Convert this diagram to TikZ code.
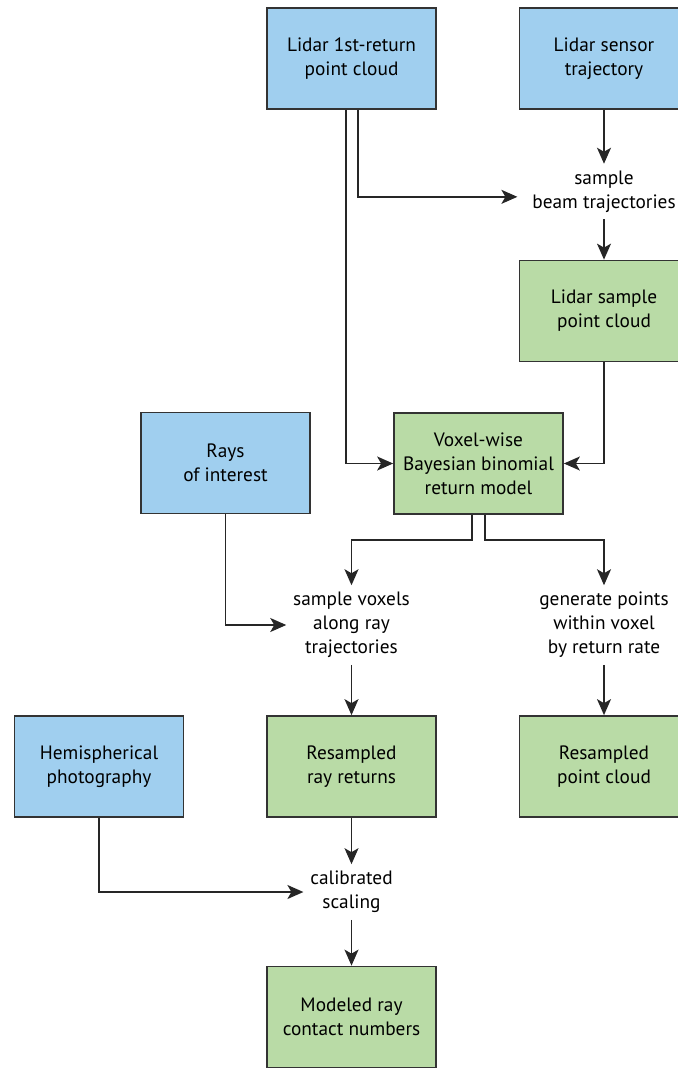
\documentclass[tikz,border=0pt]{standalone}
\usepackage{fontspec}
\setmainfont{PT Sans}
\usetikzlibrary{arrows.meta}

\definecolor{inblue}{RGB}{160,207,239}
\definecolor{outgreen}{RGB}{185,219,166}

\begin{document}
\begin{tikzpicture}[x=0.75pt,y=-0.75pt]

% ---------- styles ----------
\tikzset{
  box/.style    ={draw=black!80,line width=1.3pt,minimum width=126.75pt,
                  minimum height=75.75pt,align=center,inner sep=0pt,
                  font=\fontsize{14.5}{18}\selectfont},
  inbox/.style  ={box,fill=inblue},
  outbox/.style ={box,fill=outgreen},
  act/.style    ={align=center,inner sep=5pt,font=\fontsize{14.5}{18}\selectfont},
  flow/.style   ={draw=black!85,line width=1.2pt,
                  -{Stealth[length=12pt,width=10.5pt,inset=3pt]}}
}

\useasboundingbox (0,0) rectangle (678,1068);

% ---------- inputs and products ----------
\node[inbox]  (first)   at (351.5,58.5)  {Lidar 1st-return\\point cloud};
\node[inbox]  (traj)    at (604,58.5)    {Lidar sensor\\trajectory};
\node[outbox] (sample)  at (604,311)     {Lidar sample\\point cloud};
\node[inbox]  (rays)    at (225.5,463)   {Rays\\of interest};
\node[outbox] (voxel)   at (478.5,463.5) {Voxel-wise\\Bayesian binomial\\return model};
\node[inbox]  (hemi)    at (99,766.5)    {Hemispherical\\photography};
\node[outbox] (rayret)  at (351.5,766.5) {Resampled\\ray returns};
\node[outbox] (cloud)   at (604,766.5)   {Resampled\\point cloud};
\node[outbox] (contact) at (351.5,1017)  {Modeled ray\\contact numbers};

% ---------- processing steps ----------
\node[act] (beam)     at (604,191.5) {sample\\beam trajectories};
\node[act] (alongray) at (351.5,625) {sample voxels\\along ray\\trajectories};
\node[act] (gen)      at (604,625)   {generate points\\within voxel\\by return rate};
\node[act] (calib)    at (351.5,892) {calibrated\\scaling};

% ---------- flows ----------
\draw[flow] ([xshift=5pt]first.south) |- ([xshift=-6pt,yshift=-4pt]beam.west);
\draw[flow] ([xshift=-4pt]first.south) |- (voxel.west);
\draw[flow] (traj.south) -- (beam.north);
\draw[flow] (beam.south) -- (sample.north);
\draw[flow] (sample.south) |- (voxel.east);

\draw[flow] ([xshift=-5pt]voxel.south) -- ++(0,25) -| (alongray.north);
\draw[flow] ([xshift=5pt]voxel.south) -- ++(0,25) -| (gen.north);
\draw[flow] (rays.south) |- (alongray.west);

\draw[flow] (alongray.south) -- (rayret.north);
\draw[flow] (gen.south) -- (cloud.north);
\draw[flow] (rayret.south) -- (calib.north);
\draw[flow] (hemi.south) |- (calib.west);
\draw[flow] (calib.south) -- (contact.north);

\end{tikzpicture}
\end{document}
